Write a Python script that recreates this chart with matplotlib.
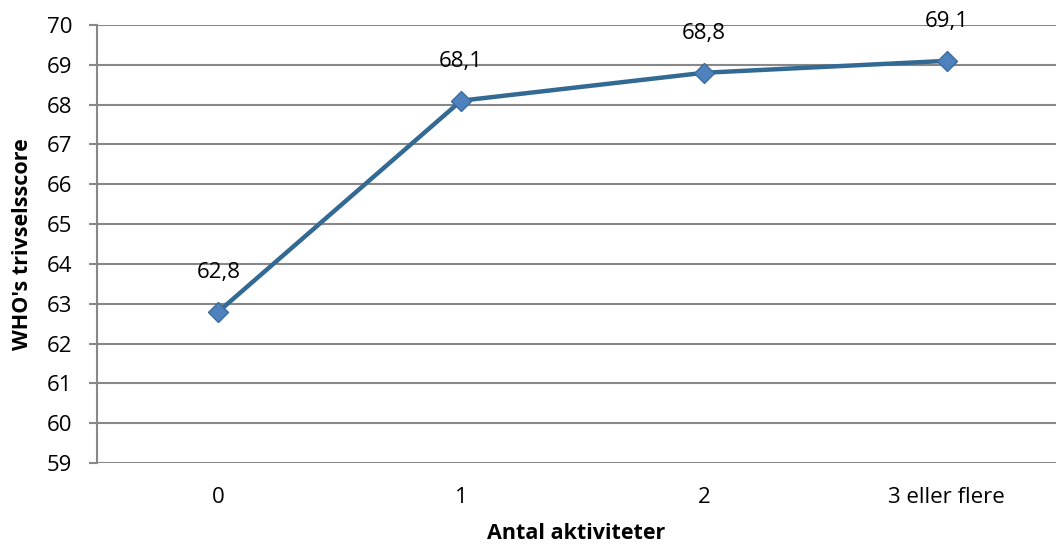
import matplotlib.pyplot as plt

categories = ["0", "1", "2", "3 eller flere"]
scores = [62.8, 68.1, 68.8, 69.1]
labels = ["62,8", "68,1", "68,8", "69,1"]

plt.rcParams['font.family'] = ['Open Sans', 'DejaVu Sans']

fig = plt.figure(figsize=(10.56, 5.47), dpi=100)
ax = fig.add_axes([97 / 1056, 1 - 463 / 547, 1 - 97 / 1056, (463 - 25) / 547])

x = list(range(len(categories)))
ax.plot(x, scores, color="#336A93", linewidth=3.2, marker="D", markersize=10,
        markerfacecolor="#4F81BD", markeredgecolor="#3B6C9F", markeredgewidth=1, zorder=3)

for xi, yi, lab in zip(x, scores, labels):
    ax.annotate(lab, (xi, yi), xytext=(0, 28), textcoords="offset points",
                ha="center", va="center", fontsize=16)

ax.set_xlim(-0.5, 3.45)
ax.set_ylim(59, 70)
ax.set_yticks(range(59, 71))
ax.set_xticks(x)
ax.set_xticklabels(categories)

ax.grid(axis="y", color="#888888", linewidth=1.5)
ax.set_axisbelow(True)
for s in ["top", "right", "bottom"]:
    ax.spines[s].set_visible(False)
ax.spines["left"].set_color("#888888")
ax.spines["left"].set_linewidth(1.5)
ax.tick_params(axis="y", length=6, width=1.5, color="#888888", labelsize=16, pad=12)
ax.tick_params(axis="x", length=0, labelsize=16, pad=17)

ax.set_xlabel("Antal aktiviteter", fontsize=15.5, fontweight="bold", labelpad=11)
ax.set_ylabel("WHO's trivselsscore", fontsize=15.5, fontweight="bold", labelpad=10)

fig.savefig("out.png", dpi=100)
